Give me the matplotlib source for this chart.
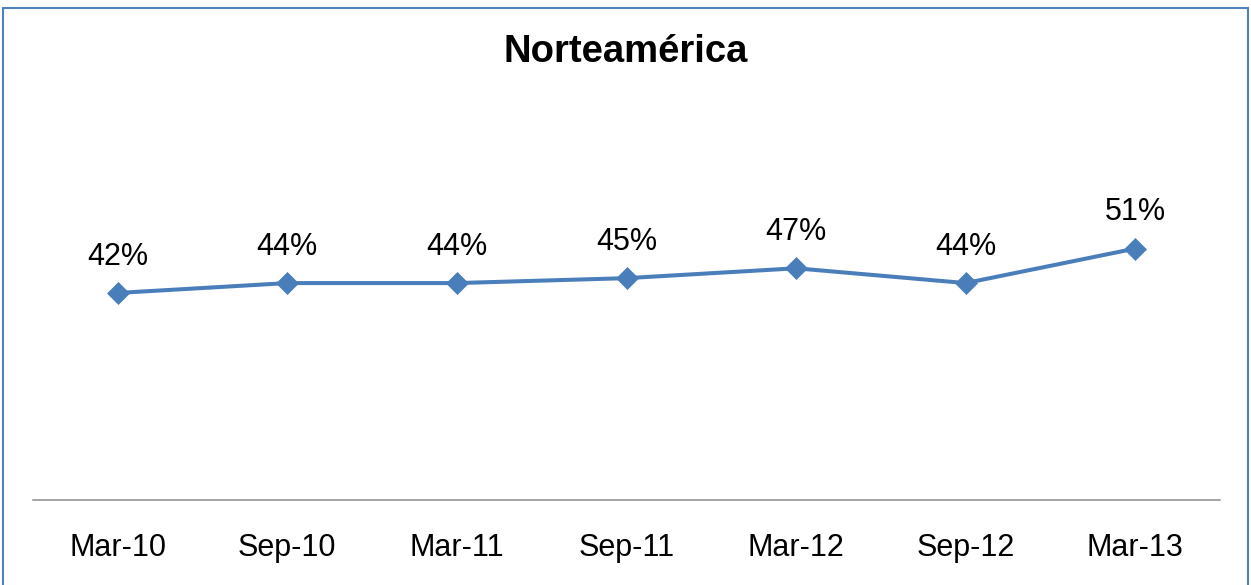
import matplotlib
matplotlib.use("Agg")
import matplotlib.pyplot as plt
from matplotlib.patches import Rectangle

categories = ["Mar-10", "Sep-10", "Mar-11", "Sep-11", "Mar-12", "Sep-12", "Mar-13"]
values = [0.42, 0.44, 0.44, 0.45, 0.47, 0.44, 0.51]
labels = ["42%", "44%", "44%", "45%", "47%", "44%", "51%"]
title = "Norteamérica"

W, H = 1251, 585
fig = plt.figure(figsize=(W / 100, H / 100), dpi=100)
plt.rcParams['font.family'] = ['Liberation Sans', 'DejaVu Sans']

ax = fig.add_axes([33 / W, 1 - 500 / H, (1220 - 33) / W, (500 - 7) / H])
x = list(range(len(categories)))
ax.plot(x, values, color="#4A7EBB", linewidth=2.9, marker="D", markersize=11,
        markerfacecolor="#4A7EBB", markeredgecolor="#4A7EBB", markeredgewidth=0.5,
        solid_joinstyle="round", clip_on=False)
for xi, v, lab in zip(x, values, labels):
    ax.annotate(lab, (xi, v), xytext=(0, 26), textcoords="offset points",
                ha="center", va="center", fontsize=22, color="black")

ax.set_xlim(-0.5, len(categories) - 0.5)
ax.set_ylim(0, 1)
ax.set_xticks(x)
ax.set_xticklabels(categories, fontsize=22)
ax.tick_params(axis="x", length=0, pad=23.5)
ax.set_yticks([])
for s in ["left", "right", "top"]:
    ax.spines[s].set_visible(False)
ax.spines["bottom"].set_color("#8C8C8C")
ax.spines["bottom"].set_linewidth(1.1)
ax.patch.set_alpha(0)

fig.text(625.5 / W, 1 - 52.5 / H, title, ha="center", va="center",
         fontsize=27.5, fontweight="bold")

border = Rectangle((3 / W, -0.05), (1248 - 3) / W, 1 - 8 / H + 0.05,
                   transform=fig.transFigure, fill=False,
                   edgecolor="#4F81BD", linewidth=1.5)
fig.patches.append(border)

fig.savefig("out.png", dpi=100)
